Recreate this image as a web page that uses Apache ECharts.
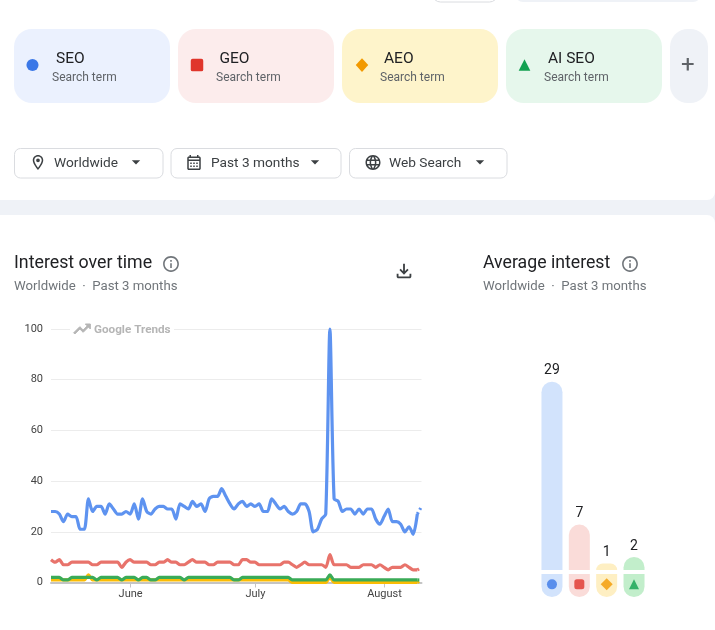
<!DOCTYPE html>
<html><head><meta charset="utf-8">
<style>html,body{margin:0;padding:0;background:#fff}#c{width:715px;height:630px}</style>
<script src="https://cdn.jsdelivr.net/npm/echarts@6/dist/echarts.min.js"></script>
</head><body><div id="c"></div>
<script>
const dates = ['May 13','May 14','May 15','May 16','May 17','May 18','May 19','May 20','May 21','May 22','May 23','May 24','May 25','May 26','May 27','May 28','May 29','May 30','May 31',
'Jun 1','Jun 2','Jun 3','Jun 4','Jun 5','Jun 6','Jun 7','Jun 8','Jun 9','Jun 10','Jun 11','Jun 12','Jun 13','Jun 14','Jun 15','Jun 16','Jun 17','Jun 18','Jun 19','Jun 20','Jun 21','Jun 22','Jun 23','Jun 24','Jun 25','Jun 26','Jun 27','Jun 28','Jun 29','Jun 30',
'Jul 1','Jul 2','Jul 3','Jul 4','Jul 5','Jul 6','Jul 7','Jul 8','Jul 9','Jul 10','Jul 11','Jul 12','Jul 13','Jul 14','Jul 15','Jul 16','Jul 17','Jul 18','Jul 19','Jul 20','Jul 21','Jul 22','Jul 23','Jul 24','Jul 25','Jul 26','Jul 27','Jul 28','Jul 29','Jul 30','Jul 31',
'Aug 1','Aug 2','Aug 3','Aug 4','Aug 5','Aug 6','Aug 7','Aug 8','Aug 9','Aug 10'];
const monthTicks = {'Jun 1':'June','Jul 1':'July','Aug 1':'August'};
const yTicks = [0,20,40,60,80,100];
const seo = [28,28,27,24,27,26,26,21,21,33,28,30,30,27,31,29,27,27,28,27,31,25,33,28,27,29,30,30,29,29,25,31,30,29,32,30,31,28,33,34,34,37,34,31,29,31,32,30,31,30,31,28,28,33,31,29,30,28,27,28,31,31,28,20,21,25,27,100,33,32,28,29,29,27,29,27,29,29,25,23,26,29,24,24,23,20,22,19,27,30];
const geo = [9,8,9,7,7,8,8,8,8,8,7,7,8,8,8,8,8,6,8,9,8,8,8,8,7,7,8,8,9,8,8,7,7,8,9,8,8,8,7,7,8,8,8,8,7,7,9,9,8,8,7,7,7,7,7,7,8,8,7,6,7,8,7,7,7,7,6,11,7,7,7,7,6,6,6,7,7,7,6,7,6,5,6,6,6,7,6,5,5,6];
const aeo = [1,1,1,1,1,1,1,1,1,3,1,1,1,1,1,1,1,1,1,1,1,1,1,1,1,1,1,1,1,1,1,1,1,1,1,1,1,1,1,1,1,1,1,1,1,1,1,1,1,1,1,1,1,1,1,1,1,1,0,0,0,0,0,0,0,0,0,2,0,0,0,0,0,0,0,0,0,0,0,0,0,0,0,0,0,0,0,0,0,1];
const aiseo = [2,2,2,1,1,2,2,2,2,2,2,1,2,2,2,2,2,1,2,2,2,1,2,2,1,1,2,2,2,2,2,2,1,2,2,2,2,2,2,2,2,2,2,2,1,1,2,2,2,2,2,2,2,2,2,2,2,2,1,1,1,1,1,1,1,1,1,3,1,1,1,1,1,1,1,1,1,1,1,1,1,1,1,1,1,1,1,1,1,1];
const terms = ['SEO','GEO','AEO','AI SEO'];
const averages = [29,7,1,2];
const pillValue = [1,1,1,1];
const lineColors = ['#5e93f0','#e8736b','#fbbc04','#3aab57'];
const barColors = ['#d2e3fc','#fadcd9','#feefc3','#c2eecb'];
const iconColors = ['#3b78e7','#e0352b','#f29900','#12a150'];
const symbols = ['circle','roundRect','diamond','triangle'];
const symbolSizes = [10,10,12,10];
const FONT = 'Roboto';
const g = [];
const rect = (x,y,w,h,fill,r,stroke,z) => g.push({type:'rect',shape:{x,y,width:w,height:h,r:r||0},style:{fill,stroke:stroke||null,lineWidth:stroke?1:0},z:z||0,silent:true});
const text = (x,y,s,size,fill,z,weight) => g.push({type:'text',x,y,style:{text:s,fontFamily:FONT,fontSize:size,fill,textVerticalAlign:'middle',verticalAlign:'middle',fontWeight:weight||400},z:z||1,silent:true});
const PATHS = {
 info:'M11 7h2v2h-2zm0 4h2v6h-2zm1-9C6.48 2 2 6.48 2 12s4.48 10 10 10 10-4.48 10-10S17.52 2 12 2zm0 18c-4.41 0-8-3.59-8-8s3.59-8 8-8 8 3.59 8 8-3.59 8-8 8z',
 pin:'M12 2C8.13 2 5 5.13 5 9c0 5.25 7 13 7 13s7-7.75 7-13c0-3.87-3.13-7-7-7zM7 9c0-2.76 2.24-5 5-5s5 2.24 5 5c0 2.88-2.88 7.19-5 9.88C9.92 16.21 7 11.85 7 9zM12 6.5a2.5 2.5 0 1 0 0 5 2.5 2.5 0 0 0 0-5z',
 cal:'M19 4h-1V2h-2v2H8V2H6v2H5c-1.1 0-2 .9-2 2v14c0 1.1.9 2 2 2h14c1.1 0 2-.9 2-2V6c0-1.1-.9-2-2-2zm0 16H5V10h14v10zm0-12H5V6h14v2zM7 12h2v2H7zm4 0h2v2h-2zm4 0h2v2h-2zM7 16h2v2H7zm4 0h2v2h-2zm4 0h2v2h-2z',
 globe:'M11.99 2C6.47 2 2 6.48 2 12s4.47 10 9.99 10C17.52 22 22 17.52 22 12S17.52 2 11.99 2zm6.93 6h-2.95c-.32-1.25-.78-2.45-1.38-3.56 1.84.63 3.37 1.91 4.33 3.56zM12 4.04c.83 1.2 1.48 2.53 1.91 3.96h-3.82c.43-1.43 1.08-2.76 1.91-3.96zM4.26 14C4.1 13.36 4 12.69 4 12s.1-1.36.26-2h3.38c-.08.66-.14 1.32-.14 2s.06 1.34.14 2H4.26zm.82 2h2.95c.32 1.25.78 2.45 1.38 3.56-1.84-.63-3.37-1.9-4.33-3.56zm2.95-8H5.08c.96-1.66 2.49-2.93 4.33-3.56C8.81 5.55 8.35 6.75 8.03 8zM12 19.96c-.83-1.2-1.48-2.53-1.91-3.96h3.82c-.43 1.43-1.08 2.76-1.91 3.96zM14.34 14H9.66c-.09-.66-.16-1.32-.16-2s.07-1.35.16-2h4.68c.09.65.16 1.32.16 2s-.07 1.34-.16 2zm.25 5.56c.6-1.11 1.06-2.31 1.38-3.56h2.95c-.96 1.65-2.49 2.93-4.33 3.56zM16.36 14c.08-.66.14-1.32.14-2s-.06-1.34-.14-2h3.38c.16.64.26 1.31.26 2s-.1 1.36-.26 2h-3.38z',
 dl:'M18 15v3H6v-3H4v3c0 1.1.9 2 2 2h12c1.1 0 2-.9 2-2v-3h-2zm-1-4-1.41-1.41L13 12.17V4h-2v8.17L8.41 9.59 7 11l5 5 5-5z',
 trend:'M16 6l2.29 2.29-4.88 4.88-4-4L2 16.59 3.41 18l6-6 4 4 6.3-6.29L22 12V6z',
 caret:'M7 10l5 5 5-5z',
 circle:'M12 2a10 10 0 1 0 0 20 10 10 0 0 0 0-20z',
 square:'M5 2h14a3 3 0 0 1 3 3v14a3 3 0 0 1-3 3H5a3 3 0 0 1-3-3V5a3 3 0 0 1 3-3z',
 diamond:'M12 1l10 11-10 11L2 12z',
 tri:'M12 2l10 20H2z'
};
Object.keys(PATHS).forEach(k=>echarts.graphic.registerShape('ic_'+k,echarts.graphic.extendPath(PATHS[k],{})));
const icon = (k,cx,cy,size,fill,z,stroke) => g.push({type:'ic_'+k,shape:{},x:cx-size/2,y:cy-size/2,scaleX:size/24,scaleY:size/24,style:{fill,stroke:stroke?fill:null,lineWidth:stroke||0},z:z||1,silent:true});

// cropped controls at the top edge
rect(432.5,-20,65,22,'#fff',8,'#dadce0');
rect(515,-20,186,22,'#eff2f7',8);
// page band between panels
rect(0,190,715,35,'#eff2f7');
rect(-10,180,725,20,'#fff',8);
rect(-10,215,725,40,'#fff',8);

// term cards
const cardBg = ['#ebf1fe','#fcecec','#fef4cb','#e6f7ec'];
const cardX = [14,178,342,506];
const iconPx = [32.5,197,362,524.5];
const labelX = [56,219.5,384,548];
const subX = [52,216,380,544];
const cardIcons = ['circle','square','diamond','tri'];
const cardIconSizes = [14.5,15,15,14];
terms.forEach((t,i)=>{
  rect(cardX[i],29,156,74,cardBg[i],18);
  text(labelX[i],59.5,t,15.5,'#202124');
  text(subX[i],77.5,'Search term',12,'#5f6368');
  icon(cardIcons[i],iconPx[i],65,cardIconSizes[i],iconColors[i]);
});
rect(670,29,38,74,'#eff2f7',18);
text(681,66,'+',24,'#5f6368');

// filter pills
[[14,148.5,'Worldwide',54,38,'pin',136],[170.5,170,'Past 3 months',211,194,'cal',315],[349,157.5,'Web Search',389,373,'globe',480]].forEach(f=>{
  rect(f[0]+.5,148.5,f[1],29.5,'#fff',6,'#dadce0');
  text(f[3],164,f[2],13.7,'#3c4043');
  icon(f[5],f[4],162.5,18,'#3c4043');
  icon('caret',f[6],162,20,'#3c4043');
});

// headings
text(14,264,'Interest over time',17.8,'#202124');
text(14,286.5,'Worldwide  ·  Past 3 months',13.2,'#70757a');
icon('info',171,264,19,'#70757a');
icon('dl',404,271,22,'#3c4043');
text(483,264,'Average interest',17.7,'#202124');
text(483,286.5,'Worldwide  ·  Past 3 months',13.2,'#70757a');
icon('info',630,264,19,'#70757a');

// watermark
rect(70,322,104,14,'#fff',0,null,10);
icon('trend',82,329,20,'#b5b5b5',11,1.2);
text(94,330,'Google Trends',11.7,'#b5b5b5',11,700);

const lastFull = 88;
const lineSeries = (name,vals,color) => [
  {name,type:'line',xAxisIndex:0,yAxisIndex:0,data:vals.map((v,i)=>i<=lastFull?v:null),symbol:'none',smooth:0.25,clip:false,lineStyle:{width:3.2,color},itemStyle:{color},silent:true},
  {name:name+' (partial)',type:'line',xAxisIndex:0,yAxisIndex:0,data:vals.map((v,i)=>i>=lastFull?v:null),symbol:'none',clip:false,lineStyle:{width:3.2,color,type:[2,3]},itemStyle:{color},silent:true}
];

const chart = echarts.init(document.getElementById('c'),null,{renderer:'canvas'});
chart.setOption({
  animation:false,
  backgroundColor:'#fff',
  textStyle:{fontFamily:FONT},
  graphic:{elements:g},
  grid:[
    {left:51,top:329,width:370.5,height:253.5},
    {left:538.3,top:375.3,width:109.4,height:194.7},
    {left:538.3,top:574,width:109.4,height:23}
  ],
  xAxis:[
    {type:'category',gridIndex:0,data:dates,boundaryGap:false,
      axisLine:{lineStyle:{color:'#c4c4c4',width:2}},
      axisTick:{length:5,alignWithLabel:true,lineStyle:{color:'#c4c4c4'},interval:(i,v)=>v in monthTicks},
      axisLabel:{interval:(i,v)=>v in monthTicks,formatter:v=>monthTicks[v]||'',color:'#444',fontSize:11,margin:6,padding:[0,0,0,1]},
      splitLine:{show:false}},
    {type:'category',gridIndex:1,data:terms,show:false},
    {type:'category',gridIndex:2,data:terms,show:false}
  ],
  yAxis:[
    {type:'value',gridIndex:0,min:0,max:yTicks[yTicks.length-1],interval:20,
      axisLine:{show:false},axisTick:{show:false},
      axisLabel:{color:'#444',fontSize:11,margin:8,padding:[3,0,0,0]},
      splitLine:{lineStyle:{color:'#ececec',width:1}}},
    {type:'value',gridIndex:1,min:0,max:30,show:false},
    {type:'value',gridIndex:2,min:0,max:1,show:false}
  ],
  series:[
    ...lineSeries('SEO',seo,lineColors[0]),
    ...lineSeries('GEO',geo,lineColors[1]),
    ...lineSeries('AEO',aeo,lineColors[2]),
    ...lineSeries('AI SEO',aiseo,lineColors[3]),
    {type:'bar',name:'Average interest',xAxisIndex:1,yAxisIndex:1,barWidth:21,silent:true,
      data:averages.map((v,i)=>({value:v,itemStyle:{color:barColors[i],borderRadius:[10.5,10.5,0,0]}})),
      label:{show:true,position:'top',distance:4,color:'#202124',fontSize:14,fontFamily:FONT}},
    {type:'bar',name:'Term key',xAxisIndex:2,yAxisIndex:2,barWidth:21,silent:true,
      data:pillValue.map((v,i)=>({value:v,itemStyle:{color:barColors[i],borderRadius:[0,0,10.5,10.5]}}))},
    {type:'scatter',name:'Term marker',xAxisIndex:2,yAxisIndex:2,silent:true,z:5,
      data:pillValue.map((v,i)=>({value:v*0.55,symbol:symbols[i],symbolSize:symbolSizes[i],itemStyle:{color:iconColors[i]}}))}
  ]
});
</script></body></html>
